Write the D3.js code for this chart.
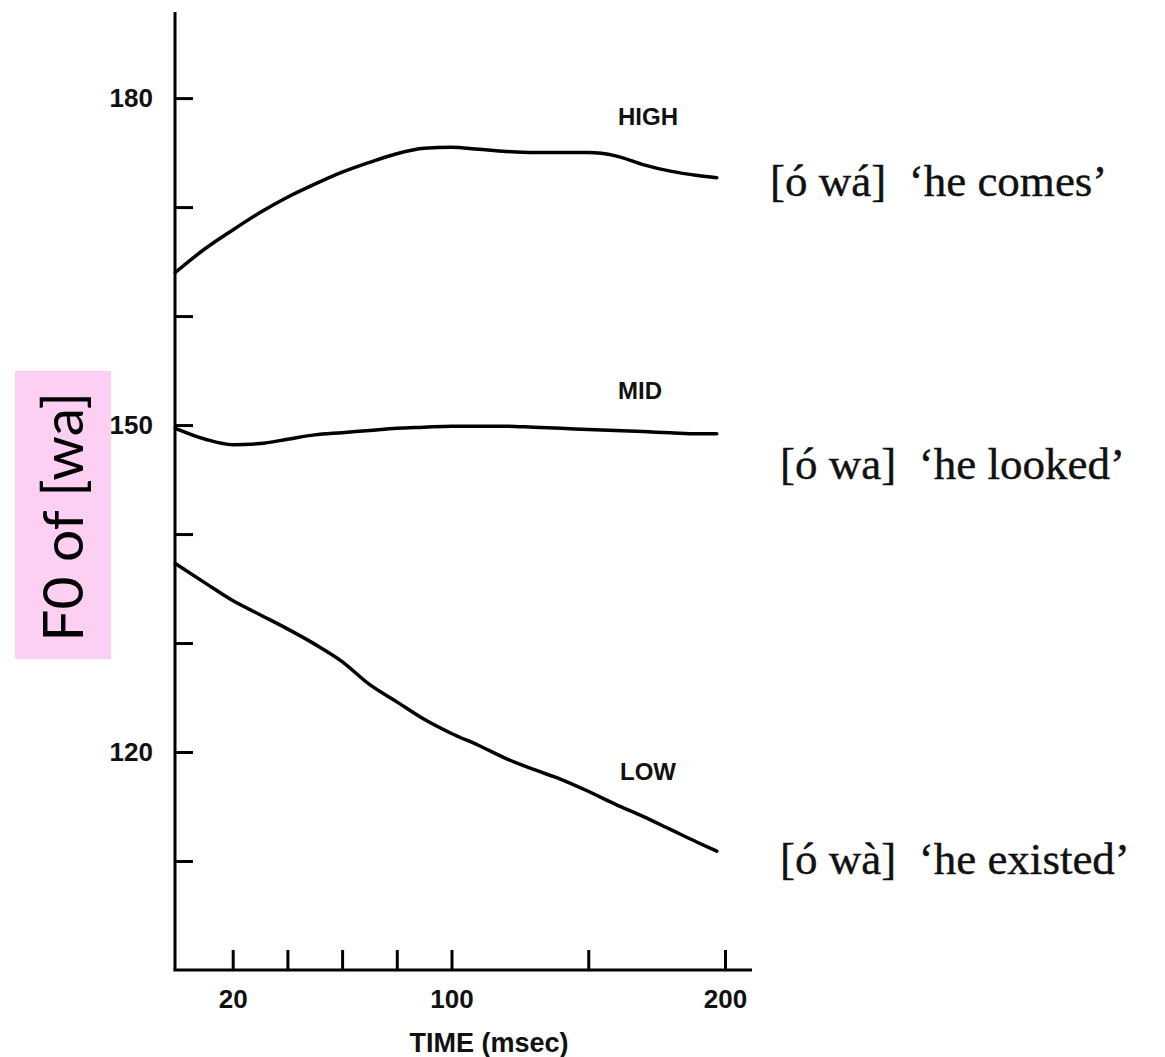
<!DOCTYPE html>
<html>
<head>
<meta charset="utf-8">
<script src="https://cdn.jsdelivr.net/npm/d3@7"></script>
<style>
  html, body { margin: 0; padding: 0; background: #fff; }
  svg { display: block; }
  .axis path, .axis line { stroke: #000; stroke-width: 3px; }
  .axis text { font-family: "Liberation Sans", Arial, sans-serif; font-weight: bold; font-size: 26px; fill: #111; }
</style>
</head>
<body>
<svg id="chart" width="1165" height="1057"></svg>
<script>
// F0 contours of Yoruba [wa] on three tones (time in msec, F0 in Hz)
const tones = ["HIGH", "MID", "LOW"];
const glosses = ["[ó wá]  ‘he comes’", "[ó wa]  ‘he looked’", "[ó wà]  ‘he existed’"];

const timeHigh = [-1, 10, 20, 30, 40, 50, 60, 70, 80, 90, 100, 110, 120, 130, 140, 150, 160, 170, 180, 190, 197];
const f0High   = [164.0, 166.2, 167.9, 169.5, 170.9, 172.1, 173.2, 174.1, 174.9, 175.4, 175.5, 175.3, 175.1, 175.0, 175.0, 175.0, 174.7, 173.9, 173.3, 172.9, 172.7];

const timeMid = [-1, 10, 20, 30, 40, 50, 60, 70, 80, 90, 100, 110, 120, 130, 140, 150, 160, 170, 180, 190, 197];
const f0Mid   = [149.7, 148.7, 148.2, 148.3, 148.7, 149.1, 149.3, 149.5, 149.7, 149.8, 149.9, 149.9, 149.9, 149.8, 149.7, 149.6, 149.5, 149.4, 149.3, 149.2, 149.2];

const timeLow = [-1, 10, 20, 30, 40, 50, 60, 70, 80, 90, 100, 110, 120, 130, 140, 150, 160, 170, 180, 190, 197];
const f0Low   = [137.3, 135.5, 133.9, 132.6, 131.3, 129.9, 128.3, 126.2, 124.6, 123.0, 121.7, 120.6, 119.4, 118.4, 117.5, 116.4, 115.2, 114.1, 112.9, 111.7, 110.9];

const xTicks = [20, 40, 60, 80, 100, 150, 200];
const xTickLabels = [20, 100, 200];
const yTicks = [110, 120, 130, 140, 150, 160, 170, 180];
const yTickLabels = [120, 150, 180];

const svg = d3.select("#chart");

const x = d3.scaleLinear().domain([0, 200]).range([178, 725]);
const y = d3.scaleLinear().domain([100, 187.9]).range([970, 12]);
const axisX = 175;

// Axes: ticks point into the plot
const yAxis = d3.axisLeft(y)
  .tickValues(yTicks)
  .tickSize(-18)
  .tickPadding(22)
  .tickFormat(d => yTickLabels.includes(d) ? d : "");
const gy = svg.append("g").attr("class", "axis")
  .attr("transform", `translate(${axisX},0)`)
  .call(yAxis);
gy.select(".domain").remove();

const xAxis = d3.axisBottom(x)
  .tickValues(xTicks)
  .tickSize(-20)
  .tickPadding(20)
  .tickFormat(d => xTickLabels.includes(d) ? d : "");
const gx = svg.append("g").attr("class", "axis")
  .attr("transform", `translate(0,${y(100)})`)
  .call(xAxis);
gx.select(".domain").remove();

// Axis lines
svg.append("line").attr("x1", axisX).attr("x2", axisX).attr("y1", y(187.9)).attr("y2", y(100))
  .attr("stroke", "#000").attr("stroke-width", 3);
svg.append("line").attr("x1", axisX - 1.5).attr("x2", 752).attr("y1", y(100)).attr("y2", y(100))
  .attr("stroke", "#000").attr("stroke-width", 3);

svg.append("text")
  .attr("x", 489).attr("y", 1052)
  .attr("text-anchor", "middle")
  .style("font-family", "'Liberation Sans', Arial, sans-serif")
  .style("font-weight", "bold").style("font-size", "27px").style("fill", "#111")
  .text("TIME (msec)");

// Contours
const line = d3.line().x(d => x(d[0])).y(d => y(d[1])).curve(d3.curveMonotoneX);
const series = [
  d3.zip(timeHigh, f0High),
  d3.zip(timeMid, f0Mid),
  d3.zip(timeLow, f0Low)
];
svg.selectAll("path.contour").data(series).join("path")
  .attr("class", "contour")
  .attr("d", line)
  .attr("fill", "none")
  .attr("stroke", "#000")
  .attr("stroke-width", 3.5)
  .attr("stroke-linecap", "round");

// Tone labels above each contour
const toneLabelPos = [[648, 125], [640, 399], [648, 780]];
svg.selectAll("text.tone").data(tones).join("text")
  .attr("class", "tone")
  .attr("x", (d, i) => toneLabelPos[i][0])
  .attr("y", (d, i) => toneLabelPos[i][1])
  .attr("text-anchor", "middle")
  .style("font-family", "'Liberation Sans', Arial, sans-serif")
  .style("font-weight", "bold").style("font-size", "24px").style("fill", "#111")
  .text(d => d);

// Glosses
const glossPos = [[770, 196], [780, 479], [780, 874]];
svg.selectAll("text.gloss").data(glosses).join("text")
  .attr("class", "gloss")
  .attr("x", (d, i) => glossPos[i][0])
  .attr("y", (d, i) => glossPos[i][1])
  .attr("xml:space", "preserve")
  .style("white-space", "pre")
  .style("font-family", "'Liberation Serif', 'Times New Roman', serif")
  .style("font-size", "45px").style("fill", "#111")
  .style("stroke", "#111").style("stroke-width", "0.4px")
  .text(d => d);

// Y-axis title on a pink panel
svg.append("rect")
  .attr("x", 15).attr("y", 371).attr("width", 96).attr("height", 288)
  .attr("fill", "#fccff3");
svg.append("text")
  .attr("transform", "translate(83,517) rotate(-90)")
  .attr("text-anchor", "middle")
  .style("font-family", "Lato, 'Open Sans', sans-serif")
  .style("font-size", "57px").style("fill", "#000")
  .text("F0 of [wa]");
</script>
</body>
</html>
